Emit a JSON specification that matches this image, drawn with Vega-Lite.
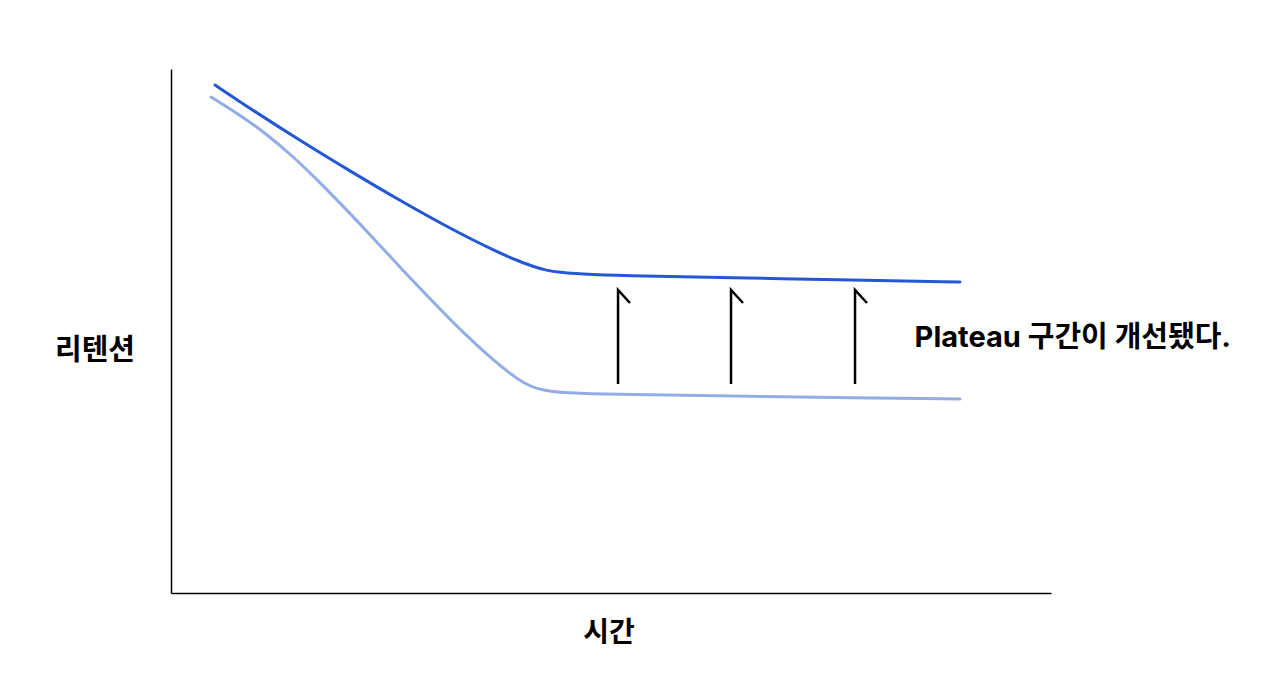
{
  "$schema": "https://vega.github.io/schema/vega-lite/v6.json",
  "width": 880,
  "height": 524,
  "autosize": {"type": "none"},
  "padding": {"left": 171, "top": 69, "right": 229, "bottom": 89},
  "background": "white",
  "config": {
    "view": {"stroke": null},
    "font": "Noto Sans CJK KR"
  },
  "datasets": {
    "curves": [
      {"series": "after", "t": 5.0, "r": 96.95},
      {"series": "after", "t": 8.98, "r": 92.46},
      {"series": "after", "t": 14.66, "r": 86.35},
      {"series": "after", "t": 20.34, "r": 80.53},
      {"series": "after", "t": 26.02, "r": 74.9},
      {"series": "after", "t": 31.7, "r": 69.56},
      {"series": "after", "t": 37.39, "r": 64.79},
      {"series": "after", "t": 39.66, "r": 63.26},
      {"series": "after", "t": 41.14, "r": 62.31},
      {"series": "after", "t": 42.5, "r": 61.64},
      {"series": "after", "t": 44.2, "r": 61.16},
      {"series": "after", "t": 46.48, "r": 60.88},
      {"series": "after", "t": 51.02, "r": 60.57},
      {"series": "after", "t": 63.64, "r": 60.17},
      {"series": "after", "t": 77.73, "r": 59.73},
      {"series": "after", "t": 89.66, "r": 59.35},
      {"series": "before", "t": 4.55, "r": 94.66},
      {"series": "before", "t": 7.84, "r": 91.22},
      {"series": "before", "t": 10.88, "r": 87.56},
      {"series": "before", "t": 13.52, "r": 83.82},
      {"series": "before", "t": 16.56, "r": 78.97},
      {"series": "before", "t": 19.32, "r": 74.24},
      {"series": "before", "t": 22.24, "r": 69.05},
      {"series": "before", "t": 25.0, "r": 64.05},
      {"series": "before", "t": 27.92, "r": 58.8},
      {"series": "before", "t": 30.68, "r": 53.97},
      {"series": "before", "t": 33.6, "r": 49.06},
      {"series": "before", "t": 36.25, "r": 44.98},
      {"series": "before", "t": 38.52, "r": 41.85},
      {"series": "before", "t": 40.23, "r": 39.9},
      {"series": "before", "t": 41.59, "r": 38.99},
      {"series": "before", "t": 43.07, "r": 38.49},
      {"series": "before", "t": 45.34, "r": 38.19},
      {"series": "before", "t": 47.61, "r": 38.03},
      {"series": "before", "t": 51.02, "r": 37.94},
      {"series": "before", "t": 63.64, "r": 37.6},
      {"series": "before", "t": 77.73, "r": 37.25},
      {"series": "before", "t": 89.66, "r": 37.02}
    ],
    "arrows": [
      {"arrow": 1, "step": 1, "t": 50.8, "r": 39.89},
      {"arrow": 1, "step": 2, "t": 50.8, "r": 57.82},
      {"arrow": 1, "step": 3, "t": 52.16, "r": 55.34},
      {"arrow": 2, "step": 1, "t": 63.64, "r": 39.89},
      {"arrow": 2, "step": 2, "t": 63.64, "r": 57.82},
      {"arrow": 2, "step": 3, "t": 65.0, "r": 55.34},
      {"arrow": 3, "step": 1, "t": 77.73, "r": 39.89},
      {"arrow": 3, "step": 2, "t": 77.73, "r": 57.82},
      {"arrow": 3, "step": 3, "t": 79.09, "r": 55.34}
    ],
    "notes": [
      {"t": 84.5, "r": 48.66, "label": "Plateau 구간이 개선됐다."}
    ]
  },
  "encoding": {
    "x": {
      "field": "t",
      "type": "quantitative",
      "scale": {"domain": [0, 100], "nice": false},
      "axis": {
        "title": "시간",
        "domain": true,
        "domainColor": "black",
        "domainWidth": 1.5,
        "ticks": false,
        "labels": false,
        "grid": false,
        "titleFont": "Noto Sans CJK KR",
        "titleFontSize": 28,
        "titleFontWeight": "bold",
        "titleColor": "black",
        "titleX": 437.5,
        "titleY": 40,
        "titleAlign": "center",
        "titleBaseline": "middle"
      }
    },
    "y": {
      "field": "r",
      "type": "quantitative",
      "scale": {"domain": [0, 100], "nice": false},
      "axis": {
        "title": "리텐션",
        "domain": true,
        "domainColor": "black",
        "domainWidth": 1.5,
        "ticks": false,
        "labels": false,
        "grid": false,
        "titleFont": "Noto Sans CJK KR",
        "titleFontSize": 29,
        "titleFontWeight": "bold",
        "titleColor": "black",
        "titleAngle": 0,
        "titleX": -76.5,
        "titleY": 281,
        "titleAlign": "center",
        "titleBaseline": "middle"
      }
    }
  },
  "layer": [
    {
      "data": {"name": "curves"},
      "mark": {"type": "line", "interpolate": "basis", "strokeWidth": 3, "strokeCap": "round"},
      "encoding": {
        "color": {
          "field": "series",
          "type": "nominal",
          "scale": {"domain": ["after", "before"], "range": ["#2457d4", "#92ace6"]},
          "legend": null
        }
      }
    },
    {
      "data": {"name": "arrows"},
      "mark": {"type": "line", "color": "black", "strokeWidth": 2.5},
      "encoding": {
        "detail": {"field": "arrow", "type": "nominal"},
        "order": {"field": "step", "type": "quantitative"}
      }
    },
    {
      "data": {"name": "notes"},
      "mark": {
        "type": "text",
        "align": "left",
        "baseline": "middle",
        "fontSize": 29,
        "letterSpacing": 1,
        "fontWeight": "bold",
        "font": "Inter, Noto Sans CJK KR",
        "color": "black"
      },
      "encoding": {
        "text": {"field": "label"}
      }
    }
  ]
}
